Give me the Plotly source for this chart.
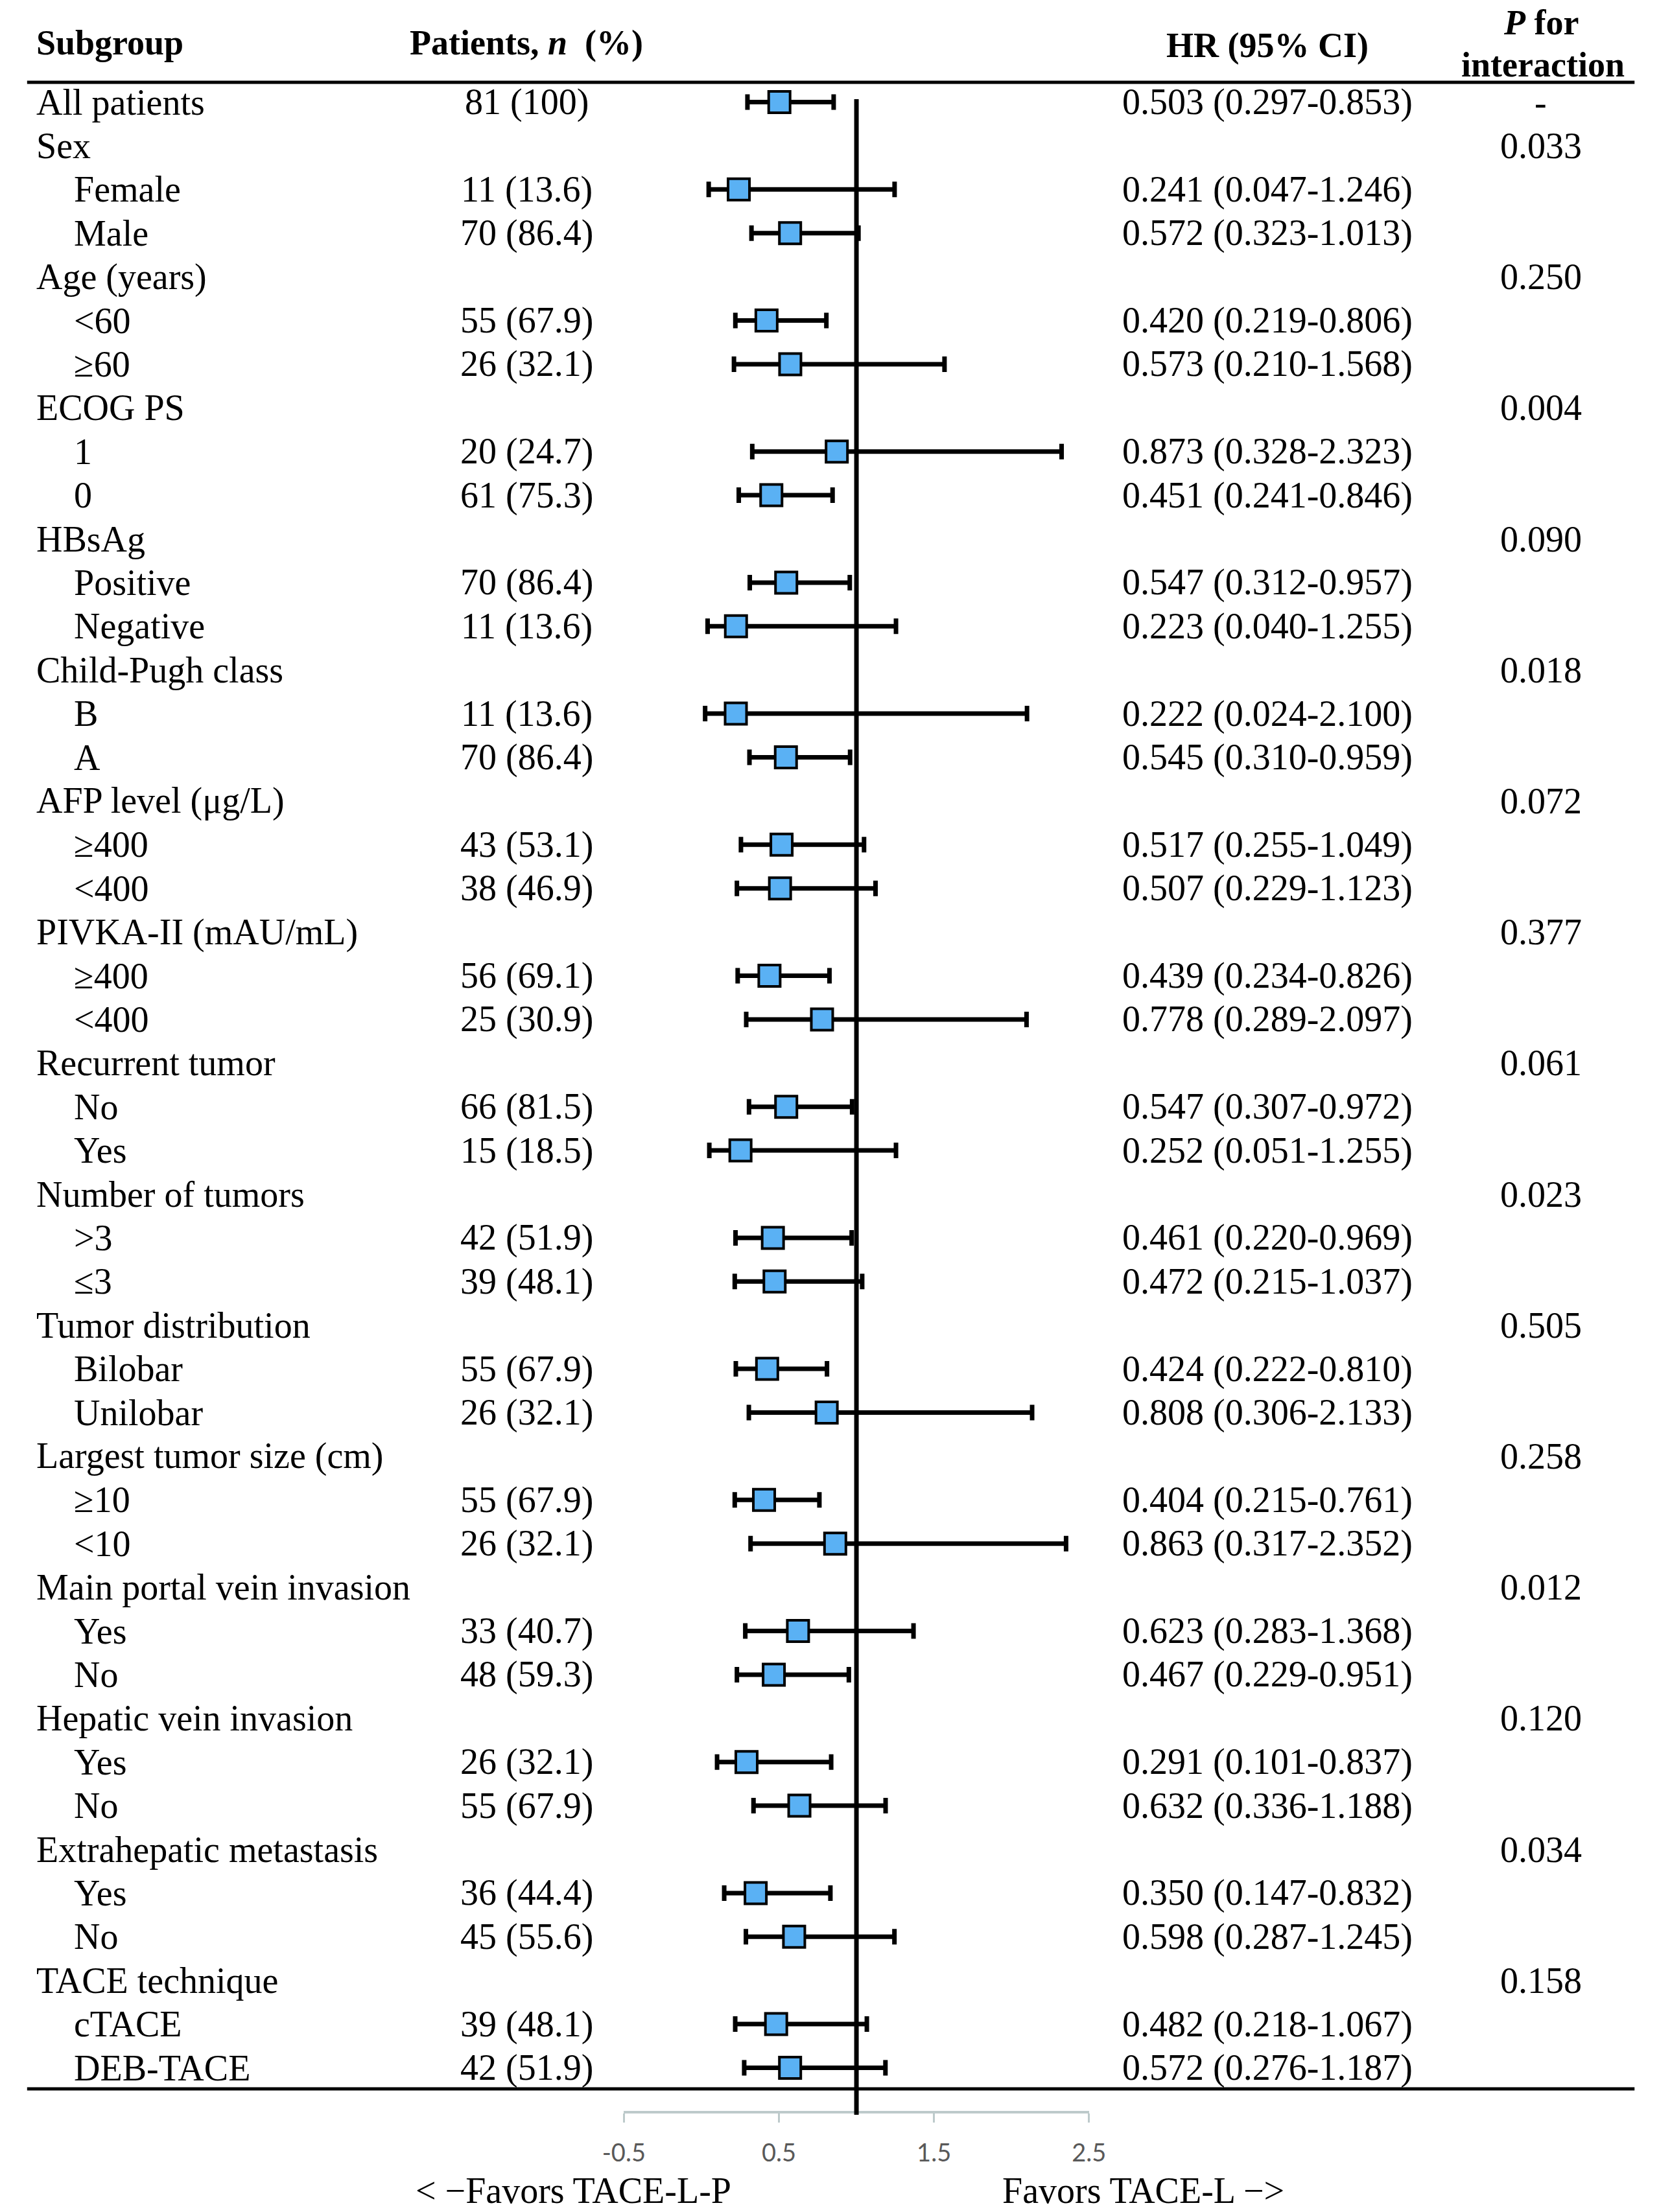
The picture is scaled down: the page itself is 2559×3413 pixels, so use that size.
import plotly.graph_objects as go

W, H = 2559, 3413

subgroup = ["All patients", "Sex", "Female", "Male", "Age (years)", "<60", "≥60",
            "ECOG PS", "1", "0", "HBsAg", "Positive", "Negative",
            "Child-Pugh class", "B", "A", "AFP level (μg/L)", "≥400", "<400",
            "PIVKA-II (mAU/mL)", "≥400", "<400", "Recurrent tumor", "No", "Yes",
            "Number of tumors", ">3", "≤3", "Tumor distribution", "Bilobar", "Unilobar",
            "Largest tumor size (cm)", "≥10", "<10", "Main portal vein invasion", "Yes", "No",
            "Hepatic vein invasion", "Yes", "No", "Extrahepatic metastasis", "Yes", "No",
            "TACE technique", "cTACE", "DEB-TACE"]

patients = ["81 (100)", "", "11 (13.6)", "70 (86.4)", "", "55 (67.9)", "26 (32.1)",
            "", "20 (24.7)", "61 (75.3)", "", "70 (86.4)", "11 (13.6)",
            "", "11 (13.6)", "70 (86.4)", "", "43 (53.1)", "38 (46.9)",
            "", "56 (69.1)", "25 (30.9)", "", "66 (81.5)", "15 (18.5)",
            "", "42 (51.9)", "39 (48.1)", "", "55 (67.9)", "26 (32.1)",
            "", "55 (67.9)", "26 (32.1)", "", "33 (40.7)", "48 (59.3)",
            "", "26 (32.1)", "55 (67.9)", "", "36 (44.4)", "45 (55.6)",
            "", "39 (48.1)", "42 (51.9)"]

hr = [0.503, None, 0.241, 0.572, None, 0.420, 0.573,
      None, 0.873, 0.451, None, 0.547, 0.223,
      None, 0.222, 0.545, None, 0.517, 0.507,
      None, 0.439, 0.778, None, 0.547, 0.252,
      None, 0.461, 0.472, None, 0.424, 0.808,
      None, 0.404, 0.863, None, 0.623, 0.467,
      None, 0.291, 0.632, None, 0.350, 0.598,
      None, 0.482, 0.572]

ci_low = [0.297, None, 0.047, 0.323, None, 0.219, 0.210,
          None, 0.328, 0.241, None, 0.312, 0.040,
          None, 0.024, 0.310, None, 0.255, 0.229,
          None, 0.234, 0.289, None, 0.307, 0.051,
          None, 0.220, 0.215, None, 0.222, 0.306,
          None, 0.215, 0.317, None, 0.283, 0.229,
          None, 0.101, 0.336, None, 0.147, 0.287,
          None, 0.218, 0.276]

ci_high = [0.853, None, 1.246, 1.013, None, 0.806, 1.568,
           None, 2.323, 0.846, None, 0.957, 1.255,
           None, 2.100, 0.959, None, 1.049, 1.123,
           None, 0.826, 2.097, None, 0.972, 1.255,
           None, 0.969, 1.037, None, 0.810, 2.133,
           None, 0.761, 2.352, None, 1.368, 0.951,
           None, 0.837, 1.188, None, 0.832, 1.245,
           None, 1.067, 1.187]

p_interaction = ["-", "0.033", "", "", "0.250", "", "", "0.004", "", "", "0.090", "", "",
                 "0.018", "", "", "0.072", "", "", "0.377", "", "", "0.061", "", "",
                 "0.023", "", "", "0.505", "", "", "0.258", "", "", "0.012", "", "",
                 "0.120", "", "", "0.034", "", "", "0.158", "", ""]

tick_vals = [-0.5, 0.5, 1.5, 2.5]
tick_text = ["-0.5", "0.5", "1.5", "2.5"]

rows = list(range(len(subgroup)))
plotted = [i for i in rows if hr[i] is not None]

serif = "Liberation Serif"
fs = 56

fig = go.Figure()

fig.add_trace(go.Scatter(
    x=[hr[i] for i in plotted],
    y=plotted,
    mode="markers",
    marker=dict(symbol="square", size=33, color="#5AB1F4",
                line=dict(color="black", width=4)),
    error_x=dict(type="data", symmetric=False,
                 array=[ci_high[i] - hr[i] for i in plotted],
                 arrayminus=[hr[i] - ci_low[i] for i in plotted],
                 color="black", thickness=7, width=12),
    showlegend=False,
    hoverinfo="skip",
))

# reference line at HR = 1
fig.add_shape(type="line", xref="x", yref="paper", x0=1, x1=1,
              y0=1 - 3263 / H, y1=1 - 153 / H,
              line=dict(color="black", width=7))

# table rules
for py in (127, 3223):
    fig.add_shape(type="line", xref="paper", yref="paper",
                  x0=8 / W, x1=2548 / W, y0=1 - py / H, y1=1 - py / H,
                  line=dict(color="black", width=5))

# columns
for i in rows:
    indent = i > 0 and patients[i] != ""
    fig.add_annotation(x=(80 if indent else 20) / W, y=i, xref="paper", yref="y",
                       text=subgroup[i], showarrow=False, xanchor="left", yanchor="middle",
                       font=dict(family=serif, size=fs, color="black"))
    if patients[i]:
        fig.add_annotation(x=797 / W, y=i, xref="paper", yref="y",
                           text=patients[i], showarrow=False, xanchor="center",
                           font=dict(family=serif, size=fs, color="black"))
    if hr[i] is not None:
        fig.add_annotation(x=1968 / W, y=i, xref="paper", yref="y",
                           text=f"{hr[i]:.3f} ({ci_low[i]:.3f}-{ci_high[i]:.3f})",
                           showarrow=False, xanchor="center",
                           font=dict(family=serif, size=fs, color="black"))
    if p_interaction[i]:
        fig.add_annotation(x=2400 / W, y=i, xref="paper", yref="y",
                           text=p_interaction[i], showarrow=False, xanchor="center",
                           font=dict(family=serif, size=fs, color="black"))

# headers
hfont = dict(family=serif, size=54, color="black")
headers = [("<b>Subgroup</b>", 20, 66, "left"),
           ("<b>Patients, <i>n</i>  (%)</b>", 797, 66, "center"),
           ("<b>HR (95% CI)</b>", 1968, 70, "center"),
           ("<b><i>P</i> for</b>", 2400, 35, "center"),
           ("<b>interaction</b>", 2403, 100, "center")]
for txt, px, py, anc in headers:
    fig.add_annotation(x=px / W, y=1 - py / H, xref="paper", yref="paper",
                       text=txt, showarrow=False, xanchor=anc, yanchor="middle",
                       font=hfont)

# favors labels
for txt, px in (("< −Favors TACE-L-P", 871), ("Favors TACE-L −>", 1772)):
    fig.add_annotation(x=px / W, y=0, xref="paper", yref="paper",
                       text=txt, showarrow=False, xanchor="center", yanchor="bottom",
                       font=dict(family=serif, size=fs, color="black"))

fig.update_layout(
    width=W, height=H,
    margin=dict(l=0, r=0, t=0, b=0),
    paper_bgcolor="white", plot_bgcolor="white",
    xaxis=dict(domain=[951 / W, 1686 / W], range=[-0.5, 2.5],
               anchor="free", position=1 - 3259 / H,
               showline=True, linecolor="#BDCACB", linewidth=4,
               ticks="outside", ticklen=14, tickwidth=3, tickcolor="#BDCACB",
               tickvals=tick_vals, ticktext=tick_text,
               tickfont=dict(family="Lato", size=38, color="#595959"),
               ticklabelstandoff=14,
               showgrid=False, zeroline=False),
    yaxis=dict(domain=[0, 1], range=[(H - 157.5) / 67.4, -157.5 / 67.4],
               visible=False, showgrid=False, zeroline=False),
)

fig.write_html("out.html", config={"displayModeBar": False},
               post_script="document.body.style.margin='0';"
                           "document.documentElement.style.overflow='hidden';")
